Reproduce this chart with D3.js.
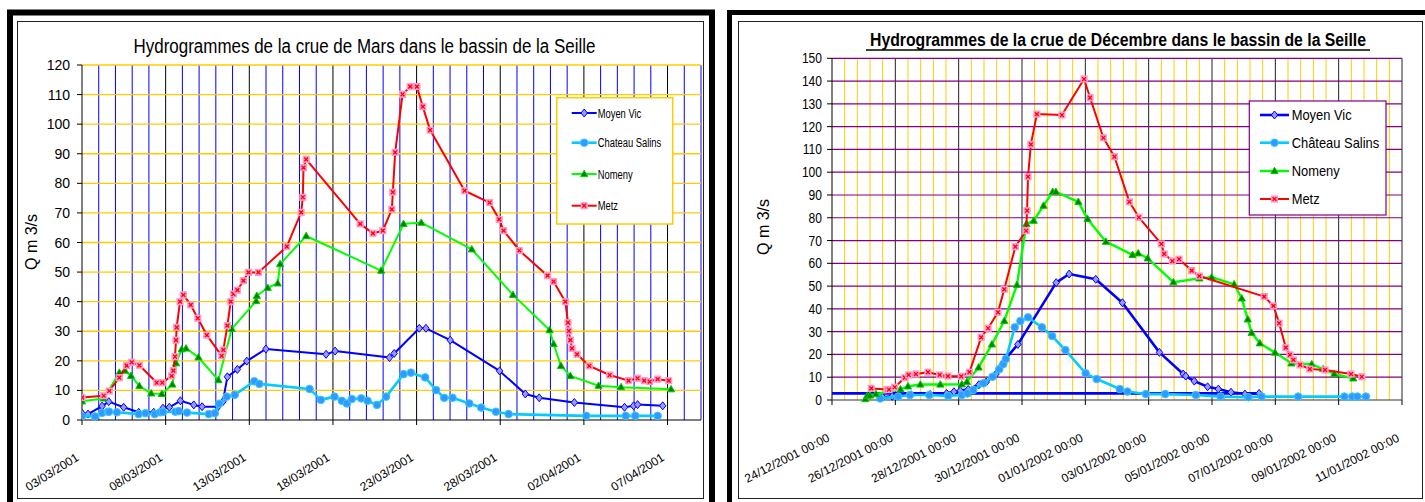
<!DOCTYPE html>
<html><head><meta charset="utf-8">
<script src="https://cdn.jsdelivr.net/npm/d3@7"></script>
<style>
body{margin:0;background:#fff}
svg{display:block}
text{font-family:"Liberation Sans",Arial,Helvetica,sans-serif;fill:#000}
</style>
</head><body>
<svg id="c" width="1425" height="502"></svg>
<script>
// ---------------- DATA ----------------
// Mars 2001 : [jours depuis 03/03/2001 00:00, Q m3/s]
const marsStart = "03/03/2001";
const marsEnd = "09/04/2001";
const marsTickLabels = ["03/03/2001","08/03/2001","13/03/2001","18/03/2001","23/03/2001","28/03/2001","02/04/2001","07/04/2001"];
const marsYTicks = [0,10,20,30,40,50,60,70,80,90,100,110,120];
const marsSeriesNames = ["Moyen Vic","Chateau Salins","Nomeny","Metz"];
const marsTitle = "Hydrogrammes de la crue de Mars dans le bassin de la Seille";

const marsMoyenVic = [[0,2.3],[0.36,2.0],[1.2,4.7],[1.6,6.2],[2.49,4.3],[3.39,2.6],[4.29,2.6],[4.84,4.0],[5.22,4.3],[5.88,6.5],[6.68,5.1],[7.18,4.5],[8.13,4.5],[8.42,6.2],[8.69,14.6],[9.29,17.1],[9.85,19.9],[10.99,24.0],[14.59,22.2],[15.13,23.3],[18.38,21.1],[18.66,22.5],[20.16,31.0],[20.56,31.0],[22.01,27.0],[24.96,16.6],[26.5,8.8],[27.33,7.5],[29.43,5.9],[32.43,4.3],[32.97,4.8],[33.21,5.2],[34.71,4.8]];
const marsChateauSalins = [[0,1.3],[0.78,1.2],[1.2,2.4],[1.55,2.8],[1.62,2.8],[2.09,2.6],[3.39,2.0],[3.79,2.3],[4.35,2.0],[4.68,2.6],[4.84,2.7],[5.58,2.8],[5.78,3.0],[6.28,2.5],[7.58,2.0],[7.94,2.3],[8.2,5.5],[8.65,7.9],[9.13,8.5],[10.3,13.1],[10.6,12.2],[13.6,10.5],[14.28,6.8],[15.09,7.9],[15.53,6.5],[15.83,5.6],[16.13,7.1],[16.69,7.3],[17.07,6.5],[17.63,5.1],[18.18,7.9],[19.22,15.5],[19.66,16.0],[20.51,14.4],[21.17,10.1],[21.65,7.5],[22.15,7.5],[23.15,5.6],[23.86,4.2],[24.74,2.8],[25.5,2.0],[30.14,1.4],[32.5,1.4],[33.07,1.4],[34.41,1.4]];
const marsNomeny = [[0,6.3],[1.3,7.3],[2.23,16.0],[2.57,16.7],[2.93,14.9],[3.43,11.5],[4.14,9.0],[4.77,8.8],[5.4,12.0],[5.62,19.2],[5.96,23.9],[6.22,24.2],[6.96,21.2],[8.15,13.5],[8.95,30.8],[10.41,40.2],[10.45,42.0],[11.1,44.7],[11.7,46.2],[11.84,52.7],[13.4,62.2],[17.88,50.5],[19.22,66.3],[20.28,66.7],[23.3,57.7],[25.76,42.3],[27.95,30.4],[28.19,25.7],[28.63,18.3],[29.19,14.9],[30.88,11.6],[32.22,11.1],[35.21,10.4]];
const marsMetz = [[0,7.6],[1.3,8.2],[1.63,9.8],[2.23,14.3],[2.67,18.4],[2.97,19.5],[3.43,18.5],[4.47,12.6],[4.8,12.6],[5.36,14.9],[5.46,16.7],[5.56,21.4],[5.62,27.0],[5.66,31.3],[5.86,40.0],[6.06,42.3],[6.5,38.9],[6.92,34.4],[7.46,28.7],[8.35,21.7],[8.45,23.7],[8.69,31.9],[8.89,40.0],[9.05,42.6],[9.29,43.9],[9.65,47.1],[9.95,49.9],[10.55,49.9],[12.24,58.6],[13.1,70.2],[13.2,75.3],[13.24,85.3],[13.4,88.1],[16.63,66.3],[17.39,63.1],[17.98,64.0],[18.52,71.2],[18.58,77.0],[18.72,90.5],[19.16,110.1],[19.62,112.7],[20.02,112.7],[20.37,105.9],[20.81,98.0],[22.87,77.5],[24.36,73.5],[24.94,67.8],[25.2,64.0],[26.14,57.3],[27.83,48.8],[28.19,46.8],[28.89,40.0],[29.05,32.9],[29.1,30.1],[29.19,27.0],[29.29,24.2],[29.59,22.2],[30.32,18.3],[31.54,15.2],[32.67,13.3],[33.21,14.1],[33.61,13.3],[33.93,13.0],[34.41,13.8],[35.07,13.3]];

// Décembre 2001 : [jours depuis 24/12/2001 00:00, Q m3/s]
const decStart = "24/12/2001 00:00";
const decEnd = "11/01/2002 00:00";
const decTickLabels = ["24/12/2001 00:00","26/12/2001 00:00","28/12/2001 00:00","30/12/2001 00:00","01/01/2002 00:00","03/01/2002 00:00","05/01/2002 00:00","07/01/2002 00:00","09/01/2002 00:00","11/01/2002 00:00"];
const decYTicks = [0,10,20,30,40,50,60,70,80,90,100,110,120,130,140,150];
const decSeriesNames = ["Moyen Vic","Château Salins","Nomeny","Metz"];
const decTitle = "Hydrogrammes de la crue de Décembre dans le bassin de la Seille";

const decMoyenVic = [[1.6,1.2],[1.9,1.6],[2.5,2.3],[3.1,2.4],[3.62,2.9],[3.85,3.6],[4.05,4.1],[4.3,4.6],[4.64,6.7],[4.87,7.9],[5.18,11.4],[5.37,15.4],[5.49,18.3],[5.87,24.4],[7.08,51.5],[7.49,55.3],[8.33,53.0],[9.17,42.7],[10.34,20.9],[11.09,11.4],[11.17,10.5],[11.44,8.3],[11.86,5.8],[12.2,4.8],[12.6,3.4],[13.04,2.6],[13.49,2.9],[-0.5,2.9]];
const decChateauSalins = [[1.52,0.7],[2.09,1.5],[2.46,2.2],[3.07,2.2],[3.67,1.8],[4.1,2.2],[4.28,2.9],[4.46,4.4],[4.78,7.3],[5.07,10.2],[5.28,13.5],[5.41,15.8],[5.49,18.0],[5.77,31.9],[5.95,34.7],[6.19,36.3],[6.63,31.9],[6.95,28.1],[7.37,21.9],[8.01,11.7],[8.36,9.2],[9.09,4.8],[9.33,3.7],[9.91,2.6],[10.52,2.6],[11.49,2.2],[12.27,1.5],[13.15,1.2],[13.57,1.5],[14.72,1.5],[16.18,1.5],[16.43,1.5],[16.59,1.5],[16.86,1.5]];
const decNomeny = [[1.05,0.4],[1.12,1.9],[1.2,2.0],[1.39,2.6],[2.16,4.7],[2.4,6.0],[2.79,6.8],[3.42,6.8],[4.1,6.9],[4.26,8.0],[4.63,14.3],[5.05,24.4],[5.44,34.7],[5.84,50.5],[6.14,77.3],[6.37,78.7],[6.68,85.3],[6.97,91.4],[7.07,91.4],[7.78,87.0],[8.07,79.5],[8.65,69.5],[9.49,63.7],[9.67,64.4],[9.97,62.2],[10.78,51.7],[11.6,53.4],[11.99,53.9],[12.7,50.8],[12.94,44.6],[13.13,35.4],[13.25,29.5],[13.51,24.9],[13.99,20.8],[14.51,16.1],[15.15,15.7],[15.51,13.6],[15.86,11.4],[16.46,9.5]];
const decMetz = [[1.24,5.1],[1.74,4.6],[1.8,4.6],[1.98,5.6],[2.3,9.8],[2.42,11.0],[2.65,11.4],[3.03,12.2],[3.4,11.0],[3.66,10.5],[4.08,10.4],[4.34,12.2],[4.71,27.5],[4.93,31.5],[5.24,38.5],[5.44,48.6],[5.79,67.3],[6.13,74.3],[6.16,83.1],[6.19,98.0],[6.28,112.2],[6.47,125.5],[7.26,125.1],[7.96,140.9],[8.15,132.7],[8.57,115.1],[8.92,106.8],[9.39,87.0],[9.69,80.2],[10.4,68.5],[10.49,64.1],[10.75,61.0],[10.96,61.8],[11.36,56.8],[11.6,54.4],[13.65,45.4],[13.94,41.3],[14.12,33.7],[14.33,23.0],[14.46,19.8],[14.57,17.6],[14.78,15.4],[15.09,13.6],[15.57,13.2],[16.39,11.4],[16.73,10.2]];

// ---------------- DRAWING ----------------
const svg = d3.select("#c");
const DAY = 864e5;
const parseD = d3.utcParse("%d/%m/%Y");
const parseDT = d3.utcParse("%d/%m/%Y %H:%M");

function fit(sel, factor){
  sel.each(function(){
    const w = this.getComputedTextLength();
    this.setAttribute("textLength", w*factor);
    this.setAttribute("lengthAdjust","spacingAndGlyphs");
  });
}

const styles = [
  {line:"#0000FF", mark:"diamond", fill:"#9999FF", stroke:"#0000FF"},
  {line:"#00CCFF", mark:"circle",  fill:"#3399FF", stroke:"#33CCFF"},
  {line:"#00FF00", mark:"triangle",fill:"#008000", stroke:"#00CC00"},
  {line:"#FF0000", mark:"square",  fill:"#FF99CC", stroke:"#FF0000"}
];

function drawMarker(g, type, cx, cy, s, st){
  if(type==="diamond"){
    g.append("path").attr("d",`M${cx},${cy-4*s}L${cx+3.2*s},${cy}L${cx},${cy+4*s}L${cx-3.2*s},${cy}Z`)
      .attr("fill",st.fill).attr("stroke",st.stroke).attr("stroke-width",1);
  } else if(type==="circle"){
    g.append("circle").attr("cx",cx).attr("cy",cy).attr("r",3.8*s)
      .attr("fill",st.fill).attr("stroke",st.stroke).attr("stroke-width",1);
  } else if(type==="triangle"){
    g.append("path").attr("d",`M${cx},${cy-3.8*s}L${cx+3.6*s},${cy+2.6*s}L${cx-3.6*s},${cy+2.6*s}Z`)
      .attr("fill",st.fill).attr("stroke",st.stroke).attr("stroke-width",1);
  } else {
    const h=3.6*s;
    g.append("rect").attr("x",cx-h).attr("y",cy-h).attr("width",2*h).attr("height",2*h)
      .attr("fill",st.fill);
    const k=1.9*s;
    g.append("path").attr("d",`M${cx-k},${cy-k}L${cx+k},${cy+k}M${cx+k},${cy-k}L${cx-k},${cy+k}`)
      .attr("stroke",st.stroke).attr("stroke-width",1.3).attr("fill","none");
  }
}

function drawChart(cfg){
  const g = svg.append("g");
  const x = d3.scaleUtc().domain([cfg.start, cfg.end]).range([cfg.x0, cfg.x1]);
  const y = d3.scaleLinear().domain([0, cfg.yTicks[cfg.yTicks.length-1]]).range([cfg.y1, cfg.y0]);
  const days = (cfg.end - cfg.start)/DAY;
  const toDate = d => new Date(cfg.start.getTime() + d*DAY);

  // vertical gridlines
  const nMinor = Math.round(days/cfg.minorStep);
  for(let i=1;i<=nMinor;i++){
    const isMajor = i % cfg.majorEvery === 0;
    const xx = x(toDate(i*cfg.minorStep));
    g.append("line").attr("x1",xx).attr("x2",xx).attr("y1",cfg.y0).attr("y2",cfg.y1)
      .attr("stroke", isMajor ? cfg.majorColor : cfg.minorColor)
      .attr("stroke-width", isMajor ? 1 : cfg.minorWidth);
  }
  // horizontal gridlines
  cfg.yTicks.forEach(v=>{
    if(v===0) return;
    g.append("line").attr("x1",cfg.x0).attr("x2",cfg.x1).attr("y1",y(v)).attr("y2",y(v))
      .attr("stroke",cfg.hColor).attr("stroke-width",cfg.hWidth);
  });

  // axes
  g.append("line").attr("x1",cfg.x0).attr("x2",cfg.x0).attr("y1",cfg.y0).attr("y2",cfg.y1)
    .attr("stroke","#000").attr("stroke-width",1);
  g.append("line").attr("x1",cfg.x0).attr("x2",cfg.x1).attr("y1",cfg.y1).attr("y2",cfg.y1)
    .attr("stroke",cfg.xAxisColor).attr("stroke-width",1.2);
  cfg.yTicks.forEach(v=>{
    g.append("line").attr("x1",cfg.x0-5).attr("x2",cfg.x0).attr("y1",y(v)).attr("y2",y(v))
      .attr("stroke","#000");
    const t = g.append("text").attr("x",cfg.yLabelX).attr("y",y(v)+0.36*cfg.yFont)
      .attr("text-anchor","end").style("font-size",cfg.yFont+"px").text(v);
    fit(t, cfg.yFactor);
  });
  cfg.xTickLabels.forEach(lbl=>{
    const dt = cfg.parse(lbl);
    const xx = x(dt);
    g.append("line").attr("x1",xx).attr("x2",xx).attr("y1",cfg.y1).attr("y2",cfg.y1+5).attr("stroke","#000");
    const cx = xx + cfg.xLabDx, cy = cfg.xLabY;
    g.append("text").attr("transform",`translate(${cx},${cy}) rotate(${-cfg.xLabAngle})`)
      .attr("text-anchor","middle").attr("dy","0.35em").style("font-size",cfg.xFont+"px").text(lbl);
  });

  // axis title
  g.append("text").attr("transform",`translate(${cfg.yTitleX},${cfg.yTitleY}) rotate(-90)`)
    .attr("text-anchor","middle").attr("dy","0.35em").style("font-size","16px").text("Q  m 3/s");

  // title
  const tt = g.append("text").attr("x",cfg.titleX).attr("y",cfg.titleY).attr("text-anchor","middle")
    .style("font-size",cfg.titleFont+"px").style("font-weight",cfg.titleBold?"bold":"normal")
    .attr("textLength",cfg.titleW).attr("lengthAdjust","spacingAndGlyphs").text(cfg.title);
  if(cfg.underline){
    g.append("line").attr("x1",cfg.underline[0]).attr("x2",cfg.underline[1])
      .attr("y1",cfg.underline[2]).attr("y2",cfg.underline[2]).attr("stroke","#000").attr("stroke-width",1.6);
  }

  // series
  const clipId = "clip"+cfg.id;
  svg.append("clipPath").attr("id",clipId).append("rect")
    .attr("x",cfg.x0).attr("y",cfg.y0-10).attr("width",cfg.x1-cfg.x0+10).attr("height",cfg.y1-cfg.y0+20);
  const sg = g.append("g").attr("clip-path",`url(#${clipId})`);
  const line = d3.line().x(d=>x(toDate(d[0]))).y(d=>y(d[1]));
  cfg.series.forEach((data,i)=>{
    const st = styles[i];
    sg.append("path").attr("d",line(data)).attr("fill","none").attr("stroke",st.line)
      .attr("stroke-width",cfg.lineW[i]).attr("stroke-linejoin","round");
    const mg = sg.append("g");
    data.forEach(d=>{
      if(d[0] < 0) return;
      drawMarker(mg, st.mark, x(toDate(d[0])), y(d[1]), cfg.markScale, st);
    });
  });

  // legend
  const L = cfg.legend;
  g.append("rect").attr("x",L.x).attr("y",L.y).attr("width",L.w).attr("height",L.h)
    .attr("fill","#fff").attr("stroke",L.stroke).attr("stroke-width",L.sw);
  cfg.names.forEach((nm,i)=>{
    const st = styles[i];
    const yy = L.rows[i];
    g.append("line").attr("x1",L.lx0).attr("x2",L.lx1).attr("y1",yy).attr("y2",yy)
      .attr("stroke",st.line).attr("stroke-width",cfg.lineW[i]);
    drawMarker(g, st.mark, (L.lx0+L.lx1)/2, yy, cfg.markScale, st);
    const t = g.append("text").attr("x",L.tx).attr("y",yy+0.36*L.font).style("font-size",L.font+"px").text(nm);
    fit(t, L.factor);
  });
}

// frames
svg.append("rect").attr("x",10).attr("y",12.5).attr("width",702).attr("height",600)
  .attr("fill","none").attr("stroke","#000").attr("stroke-width",6);
svg.append("rect").attr("x",729.5).attr("y",12.5).attr("width",800).attr("height",600)
  .attr("fill","none").attr("stroke","#000").attr("stroke-width",5);
svg.append("rect").attr("x",17.5).attr("y",21.5).attr("width",686).attr("height",477)
  .attr("fill","#fff").attr("stroke","#222").attr("stroke-width",1);
svg.append("rect").attr("x",738.5).attr("y",21.5).attr("width",684).attr("height",477)
  .attr("fill","#fff").attr("stroke","#222").attr("stroke-width",1);

drawChart({
  id:"m", start:parseD(marsStart), end:parseD(marsEnd), parse:parseD,
  x0:82, x1:701, y0:65, y1:420,
  yTicks:marsYTicks, xTickLabels:marsTickLabels,
  minorStep:1, majorEvery:5, minorColor:"#0000FF", minorWidth:1, majorColor:"#000",
  hColor:"#FFCC00", hWidth:1.4, xAxisColor:"#000",
  yLabelX:70, yFont:14, yFactor:1.0,
  xLabDx:-30, xLabY:472, xLabAngle:32, xFont:12,
  yTitleX:31, yTitleY:242,
  title:marsTitle, titleX:364.5, titleY:52.5, titleFont:20, titleBold:false, titleW:462,
  series:[marsMoyenVic, marsChateauSalins, marsNomeny, marsMetz],
  names:marsSeriesNames, lineW:[2,2.6,2,2], markScale:1,
  legend:{x:556.7,y:97.7,w:116,h:126.3,stroke:"#FFCC00",sw:1.5,rows:[113,142.7,174,205.7],
          lx0:571.7,lx1:596.7,tx:597.7,font:12.5,factor:0.75}
});

drawChart({
  id:"d", start:parseDT(decStart), end:parseDT(decEnd), parse:parseDT,
  x0:832, x1:1402, y0:58.3, y1:400,
  yTicks:decYTicks, xTickLabels:decTickLabels,
  minorStep:0.4, majorEvery:5, minorColor:"#FFCC00", minorWidth:1, majorColor:"#222",
  hColor:"#800080", hWidth:1.2, xAxisColor:"#333",
  yLabelX:822, yFont:14, yFactor:0.86,
  xLabDx:-45, xLabY:458, xLabAngle:27, xFont:12,
  yTitleX:763, yTitleY:227,
  title:decTitle, titleX:1118, titleY:46, titleFont:17.5, titleBold:true, titleW:496,
  underline:[866,1370,50],
  series:[decMoyenVic, decChateauSalins, decNomeny, decMetz],
  names:decSeriesNames, lineW:[2.6,2.6,2.4,2], markScale:1,
  legend:{x:1249.3,y:101,w:136.7,h:114,stroke:"#800080",sw:1.2,rows:[115,142.7,171,199],
          lx0:1260,lx1:1289,tx:1291.7,font:15,factor:0.86}
});
</script>
</body></html>
